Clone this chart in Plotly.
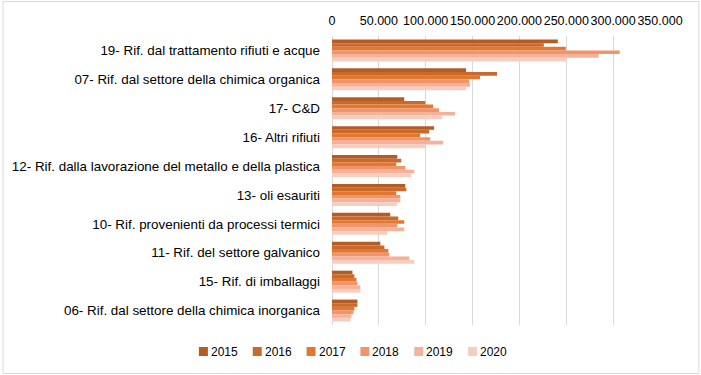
import plotly.graph_objects as go

categories = [
    "19- Rif. dal trattamento rifiuti e acque",
    "07- Rif. dal settore della chimica organica",
    "17- C&D",
    "16- Altri rifiuti",
    "12- Rif. dalla lavorazione del metallo e della plastica",
    "13- oli esauriti",
    "10- Rif. provenienti da processi termici",
    "11- Rif. del settore galvanico",
    "15- Rif. di imballaggi",
    "06- Rif. dal settore della chimica inorganica",
]
years = ["2015", "2016", "2017", "2018", "2019", "2020"]
v2015 = [241000, 143100, 77100, 109000, 69700, 78200, 62200, 51600, 21800, 27100]
v2016 = [226000, 176100, 99500, 103700, 73900, 79300, 70700, 55900, 23900, 27100]
v2017 = [249500, 158000, 108000, 94100, 68600, 68600, 77100, 60100, 26100, 23900]
v2018 = [307000, 146300, 114400, 104800, 78200, 72900, 69700, 61200, 27100, 22900]
v2019 = [284600, 147300, 131400, 118600, 87800, 72900, 77100, 82400, 30300, 20700]
v2020 = [250200, 143100, 117600, 99800, 84600, 69700, 59000, 87800, 30300, 19700]
series = [v2015, v2016, v2017, v2018, v2019, v2020]
colors = ["#B35C23", "#C9692B", "#E27830", "#F0946A", "#F4B29A", "#F8CDBF"]

fig = go.Figure()
for yr, vals, col in zip(years, series, colors):
    fig.add_trace(go.Bar(y=categories, x=vals, name=yr, orientation="h",
                         showlegend=False,
                         marker=dict(color=col, line=dict(width=0))))

W, H = 701, 375
ml, mr, mt, mb = 331.5, 40.5, 36, 50
pw = W - ml - mr
ph = H - mt - mb


def px(xp):
    return (xp - ml) / pw


def py(yp):
    return (H - mb - yp) / ph


fig.update_layout(
    width=W, height=H,
    margin=dict(l=ml, r=mr, t=mt, b=mb, autoexpand=False),
    paper_bgcolor="white", plot_bgcolor="white",
    barmode="group", bargap=0.24, bargroupgap=0,
    separators=",.",
    font=dict(family="Liberation Sans, Arial, sans-serif", size=13, color="#000000"),
    xaxis=dict(side="top", range=[0, 350000], dtick=50000, tickformat=",d",
               showgrid=True, gridcolor="#D9D9D9", gridwidth=1,
               zeroline=True, zerolinecolor="#D9D9D9", zerolinewidth=1,
               ticks="", automargin=False, ticklabelstandoff=8, tickangle=0,
               tickfont=dict(size=12.5, color="#000000")),
    yaxis=dict(autorange="reversed", showgrid=False, ticks="", automargin=False,
               ticklabelstandoff=11,
               tickfont=dict(size=13.4, color="#000000")),
    showlegend=False,
)

# legend (drawn as key squares + text labels, laid out like the original)
leg_x0, leg_step, leg_y = 198, 54, 351.5
for i, (yr, col) in enumerate(zip(years, colors)):
    sx = leg_x0 + leg_step * i
    fig.add_shape(type="rect", xref="paper", yref="paper",
                  x0=px(sx), x1=px(sx + 9), y0=py(leg_y + 4.5), y1=py(leg_y - 4.5),
                  fillcolor=col, line=dict(width=0))
    fig.add_annotation(xref="paper", yref="paper", x=px(sx + 10), y=py(leg_y),
                       xanchor="left", yanchor="middle", showarrow=False,
                       text=yr, font=dict(size=12, color="#000000"))

# chart border
fig.add_shape(type="rect", xref="paper", yref="paper",
              x0=px(1.5), x1=px(699.5), y0=py(373.5), y1=py(1.5),
              line=dict(color="#D9D9D9", width=1), layer="below")
fig.write_html("out.html", config={"displayModeBar": False},
               post_script="document.body.style.margin='0';")
